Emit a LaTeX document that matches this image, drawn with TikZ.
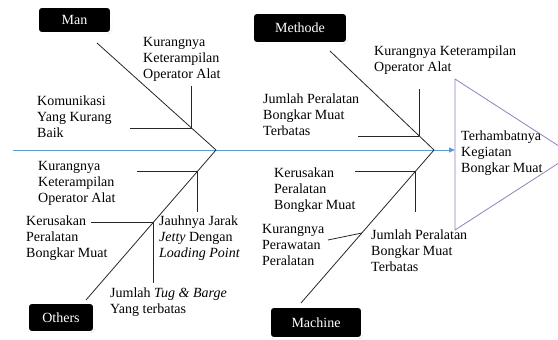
\documentclass[tikz,border=0pt]{standalone}
\usepackage{fontspec}
\setmainfont{Liberation Serif}
\usetikzlibrary{arrows.meta,shadows}
\pgfdeclarelayer{bg}
\pgfsetlayers{bg,main}
\definecolor{spineblue}{RGB}{91,155,213}
\definecolor{headpurple}{RGB}{150,125,190}
\tikzset{
    catbox/.style={draw=white, line width=1.6pt, fill=black, rounded corners=4pt,
        text=white, inner sep=0pt,
        drop shadow={opacity=0.22, shadow xshift=1pt, shadow yshift=-1.2pt}},
    cause/.style={align=left, inner sep=0pt, anchor=base west},
    bone/.style={draw=black!85, line width=0.8pt}
}

\begin{document}
\begin{tikzpicture}[x=1pt, y=-1pt, font=\fontsize{14}{16}\selectfont]
    \useasboundingbox (0,0) rectangle (558,340);

    \node (man) [catbox, minimum width=73pt, minimum height=26pt] at (74.5,20) {Man};
    \node (methode) [catbox, minimum width=94pt, minimum height=30pt] at (300,28) {Methode};
    \node (others) [catbox, minimum width=66pt, minimum height=29pt] at (61,317.5) {Others};
    \node (machine) [catbox, minimum width=92pt, minimum height=31pt] at (316,322.5) {Machine};

    \coordinate (tail) at (13,150);
    \coordinate (head) at (455,150);
    \coordinate (jl) at (216,150);
    \coordinate (jr) at (434,150);
    \coordinate (mane) at (97,43);
    \coordinate (othe) at (86,300);
    \coordinate (mete) at (330,51);
    \coordinate (mace) at (301,303);
    \coordinate (tt) at (455,79);
    \coordinate (tb) at (455,230);
    \coordinate (tp) at (572,154.5);

    \coordinate (m1) at (191.5,128);
    \coordinate (m1a) at (130,128);
    \coordinate (m1b) at (191.5,86);
    \coordinate (o1) at (197.8,171);
    \coordinate (o1a) at (137,171);
    \coordinate (o1b) at (197.8,212);
    \coordinate (o2) at (153.6,222);
    \coordinate (o2a) at (91,222);
    \coordinate (o2b) at (153.6,283);
    \coordinate (e1) at (419.3,136);
    \coordinate (e1a) at (358,136);
    \coordinate (e1b) at (419.3,89);
    \coordinate (c1) at (415.7,171);
    \coordinate (c1a) at (355,171);
    \coordinate (c1b) at (415.7,212);
    \coordinate (c2) at (361.9,233);
    \coordinate (c2a) at (328,240);

    \node (manop) [cause] at (143,78.5) {Kurangnya\\Keterampilan\\Operator Alat};
    \node (mankom) [cause] at (37,137.5) {Komunikasi\\Yang Kurang\\Baik};
    \node (othop) [cause] at (38,202.5) {Kurangnya\\Keterampilan\\Operator Alat};
    \node (othrus) [cause] at (26,257.5) {Kerusakan\\Peralatan\\Bongkar Muat};
    \node (othjar) [cause] at (159,257.5) {Jauhnya Jarak\\\textit{Jetty} Dengan\\\textit{Loading Point}};
    \node (othtug) [cause] at (110,313) {Jumlah \textit{Tug \& Barge}\\Yang terbatas};
    \node (metop) [cause] at (374,71) {Kurangnya Keterampilan\\Operator Alat};
    \node (metjum) [cause] at (263,135.5) {Jumlah Peralatan\\Bongkar Muat\\Terbatas};
    \node (macrus) [cause] at (274,209.5) {Kerusakan\\Peralatan\\Bongkar Muat};
    \node (macraw) [cause] at (262,265.5) {Kurangnya\\Perawatan\\Peralatan};
    \node (macjum) [cause] at (371,271.5) {Jumlah Peralatan\\Bongkar Muat\\Terbatas};
    \node (effect) [cause] at (461,172) {Terhambatnya\\Kegiatan\\Bongkar Muat};

    \begin{pgfonlayer}{bg}
        \begin{scope}
            \clip (0,0) rectangle (558,340);
            \draw[headpurple, line width=0.8pt] (tt) -- (tp) -- (tb) -- cycle;
        \end{scope}
        \draw[spineblue, line width=0.8pt, -{Triangle[length=6pt, width=5pt]}] (tail) -- (head);
        \draw[bone] (mane) edge (jl);
        \draw[bone] (jl) edge (othe);
        \draw[bone] (mete) edge (jr);
        \draw[bone] (jr) edge (mace);
        \draw[bone] (m1a) edge (m1);
        \draw[bone] (m1) edge (m1b);
        \draw[bone] (o1a) edge (o1);
        \draw[bone] (o1) edge (o1b);
        \draw[bone] (o2a) edge (o2);
        \draw[bone] (o2) edge (o2b);
        \draw[bone] (e1a) edge (e1);
        \draw[bone] (e1) edge (e1b);
        \draw[bone] (c1a) edge (c1);
        \draw[bone] (c1) edge (c1b);
        \draw[bone] (c2a) edge (c2);
    \end{pgfonlayer}
\end{tikzpicture}
\end{document}
